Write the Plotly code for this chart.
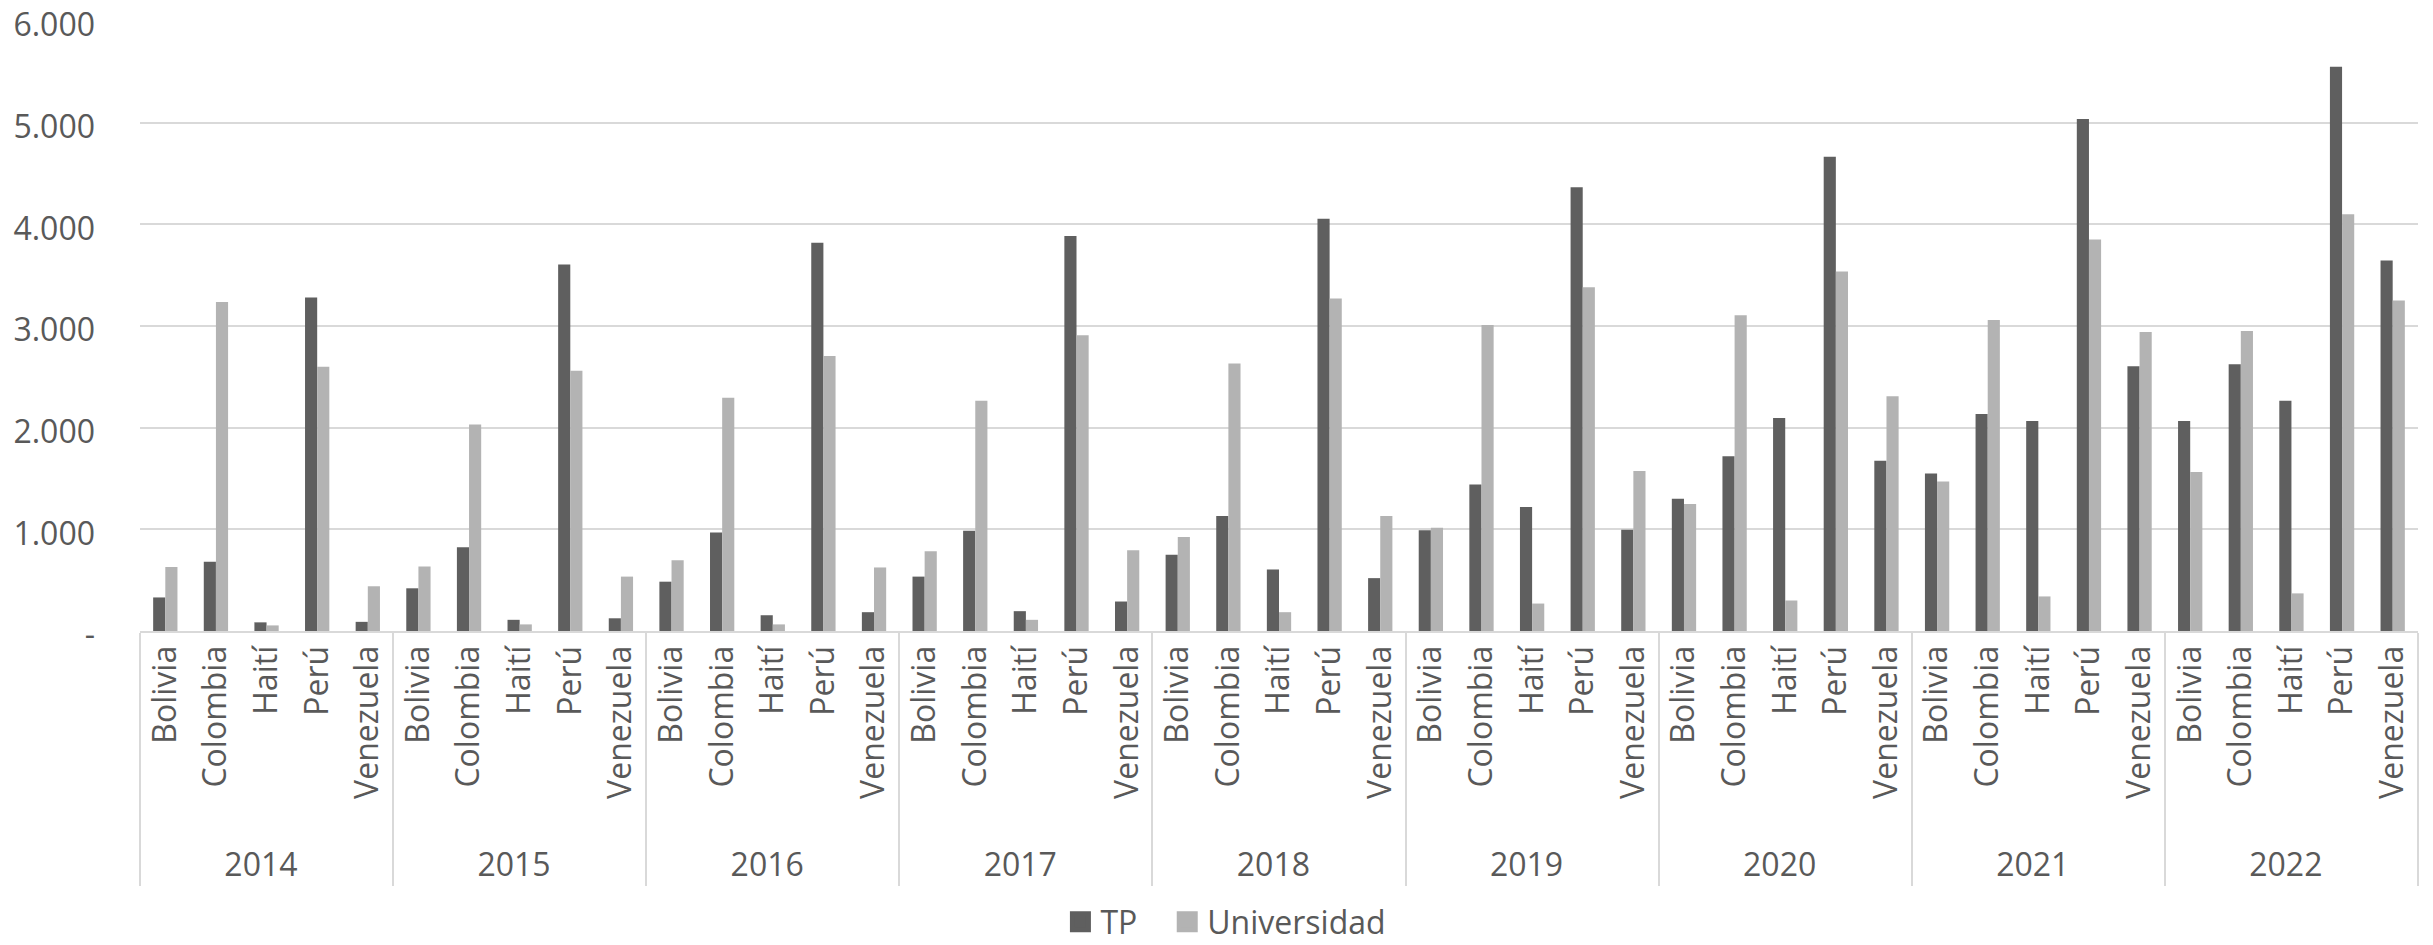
import plotly.graph_objects as go

years = ["2014", "2015", "2016", "2017", "2018", "2019", "2020", "2021", "2022"]
countries = ["Bolivia", "Colombia", "Haití", "Perú", "Venezuela"]

# values per year, in country order above
tp = [
    330, 680, 85, 3280, 90,
    420, 825, 110, 3605, 125,
    485, 970, 155, 3820, 185,
    535, 985, 195, 3885, 290,
    750, 1130, 605, 4055, 520,
    990, 1440, 1220, 4365, 995,
    1300, 1720, 2095, 4665, 1675,
    1550, 2135, 2065, 5035, 2605,
    2065, 2625, 2265, 5550, 3645,
]
universidad = [
    630, 3235, 55, 2600, 440,
    635, 2030, 65, 2560, 535,
    695, 2295, 65, 2705, 625,
    785, 2265, 110, 2910, 795,
    925, 2630, 185, 3270, 1130,
    1015, 3010, 270, 3380, 1575,
    1250, 3105, 300, 3535, 2310,
    1470, 3060, 340, 3850, 2940,
    1565, 2950, 370, 4100, 3250,
]

y_tickvals = [0, 1000, 2000, 3000, 4000, 5000, 6000]
y_ticktext = ["-", "1.000", "2.000", "3.000", "4.000", "5.000", "6.000"]

series_names = ["TP", "Universidad"]
series_colors = ["#5f5f5f", "#b3b3b3"]

NB = "\u00a0"
x_years = [y for y in years for _ in countries]
# leading no-break spaces only add room below the rotated labels (Excel-like spacing)
x_countries = [NB * 2 + c for _ in years for c in countries]

FONT = "Open Sans"
TXT = "#595959"
GRID = "#d9d9d9"

fig = go.Figure()
for name, vals, col in zip(series_names, [tp, universidad], series_colors):
    fig.add_trace(go.Bar(name=name, x=[x_years, x_countries], y=vals, showlegend=False,
                         marker=dict(color=col, line=dict(width=0))))
# legend entries (larger square symbols) on a hidden helper axis pair
legend_labels = ["TP" + NB * 3, "Universidad"]
for name, col in zip(legend_labels, series_colors):
    fig.add_trace(go.Scatter(name=name, x=[0], y=[None], xaxis="x2", yaxis="y2",
                             mode="markers", showlegend=True, hoverinfo="skip",
                             marker=dict(symbol="square", size=16, color=col,
                                         line=dict(width=5, color=col))))

fig.update_layout(
    width=2433, height=945,
    paper_bgcolor="white", plot_bgcolor="white",
    margin=dict(l=140, r=15, t=21, b=314, autoexpand=False),
    barmode="group", bargap=0.52, bargroupgap=0,
    font=dict(family=FONT, size=32, color=TXT),
    showlegend=True,
    legend=dict(orientation="h", x=0.4767, xanchor="center", y=-0.477, yanchor="middle",
                font=dict(family=FONT, size=32, color=TXT), itemwidth=30,
                bgcolor="rgba(0,0,0,0)"),
    xaxis=dict(type="multicategory", tickangle=-90, showgrid=False, automargin=False,
               showline=True, linecolor=GRID, linewidth=2,
               showdividers=True, dividercolor=GRID, dividerwidth=2,
               ticks="", tickfont=dict(family=FONT, size=32, color=TXT)),
    yaxis=dict(range=[0, 6000], tickvals=y_tickvals, ticktext=y_ticktext, automargin=False,
               showgrid=True, gridcolor=GRID, gridwidth=2, zeroline=False,
               showline=False, ticks="", ticklabelstandoff=44, ticklabeloverflow="allow",
               ticklabelshift=4,
               tickfont=dict(family=FONT, size=32, color=TXT)),
    xaxis2=dict(overlaying="x", visible=False, range=[-1, 1]),
    yaxis2=dict(overlaying="y", visible=False, range=[-1, 1]),
)

# remove the default 8px page margin so the figure fills the window exactly
fig.write_html("out.html", config={"displayModeBar": False},
               post_script="document.body.style.margin='0';")
